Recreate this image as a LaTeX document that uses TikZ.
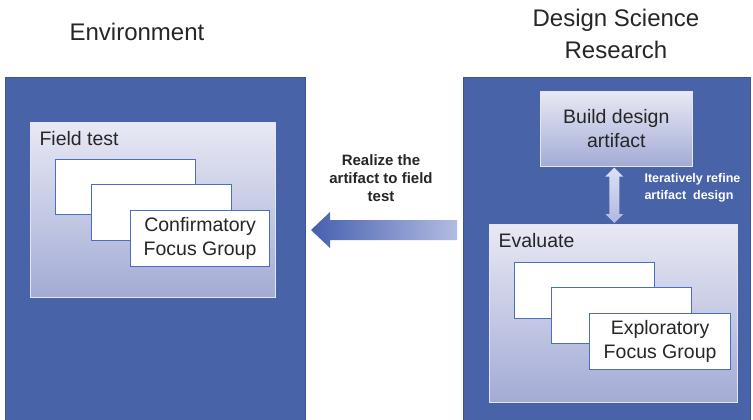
\documentclass[tikz,border=0pt]{standalone}
\usepackage{fontspec}
\setmainfont{Liberation Sans}
\usetikzlibrary{calc}
\definecolor{bigblue}{RGB}{72,99,168}
\definecolor{bigedge}{RGB}{60,84,150}
\definecolor{paneltop}{RGB}{232,233,244}
\definecolor{panelbot}{RGB}{163,171,213}
\definecolor{boxedge}{RGB}{75,110,192}
\definecolor{arrdark}{RGB}{70,95,175}
\definecolor{arrlight}{RGB}{178,188,226}
\definecolor{dblt}{RGB}{222,225,242}
\definecolor{dblb}{RGB}{176,184,224}
\begin{document}
\begin{tikzpicture}[x=1pt,y=-1pt,
  bigbox/.style={draw=bigedge, line width=0.6pt, fill=bigblue, anchor=north west, inner sep=0pt},
  panel/.style={draw=white!70!panelbot, line width=0.6pt, top color=paneltop, bottom color=panelbot, anchor=north west, inner sep=0pt},
  card/.style={draw=boxedge, line width=1.2pt, fill=white, anchor=north west, inner sep=0pt},
  body/.style={font=\fontsize{19.5}{24}\selectfont, align=center, text=black!85},
  title/.style={font=\fontsize{24}{32}\selectfont, align=center, text=black!85},
  note/.style={font=\bfseries\fontsize{15}{18}\selectfont, align=center, text=black!85},
  wnote/.style={font=\bfseries\fontsize{12.5}{17}\selectfont, align=left, text=white}
]
\useasboundingbox (0,0) rectangle (753,420);
% titles
\node[title] (tenv) at (137,32) {Environment};
\node[title] (tdsr) at (616,34) {Design Science\\Research};
% big boxes
\node[bigbox, minimum width=300pt, minimum height=343pt] (env) at (5,77) {};
\node[bigbox, minimum width=287pt, minimum height=343pt] (dsr) at (463,77) {};
% field test panel
\node[panel, minimum width=245pt, minimum height=175pt] (field) at (30,122) {};
\node[body, anchor=west] (fieldlbl) at (36,139) {Field test};
\node[card, minimum width=140pt, minimum height=55pt] (c1) at (55,159) {};
\node[card, minimum width=140pt, minimum height=56pt] (c2) at (91,184) {};
\node[card, minimum width=139pt, minimum height=56pt, body] (c3) at (130,210) {Confirmatory\\Focus Group};
% build panel
\node[panel, minimum width=152pt, minimum height=75pt, body] (build) at (540,91) {Build design\\artifact};
% evaluate panel
\node[panel, minimum width=248pt, minimum height=178pt] (eval) at (489,224) {};
\node[body, anchor=west] (evallbl) at (495,241) {Evaluate};
\node[card, minimum width=140pt, minimum height=56pt] (e1) at (514,262) {};
\node[card, minimum width=140pt, minimum height=56pt] (e2) at (551,287) {};
\node[card, minimum width=141pt, minimum height=56pt, body] (e3) at (589,313) {Exploratory\\Focus Group};
% double arrow between build and evaluate
\coordinate (dtop) at ($(build.south)+(-2,1)$);
\coordinate (dbot) at ($(eval.north)+(1,-1)$);
\path[top color=dblt, bottom color=dblb]
  (dtop) -- ++(9,9) -- ++(-4,0) -- ($(dbot)+(5,-9)$) -- ++(4,0) -- (dbot)
  -- ++(-9,-9) -- ++(4,0) -- ($(dtop)+(-5,9)$) -- ++(-4,0) -- cycle;
\node[wnote, anchor=west] (itlbl) at (641,188) {Iteratively refine\\artifact\ \ design};
% realize arrow from DSR to environment
\coordinate (atip) at (311,230);
\path[left color=arrdark, right color=arrlight]
  (atip) -- ++(19,-18) -- ++(0,8) -- ++(127,0) -- ++(0,20) -- ++(-127,0) -- ++(0,8) -- cycle;
\node[note] (reallbl) at (381,178) {Realize the\\artifact to field\\test};
\end{tikzpicture}
\end{document}
